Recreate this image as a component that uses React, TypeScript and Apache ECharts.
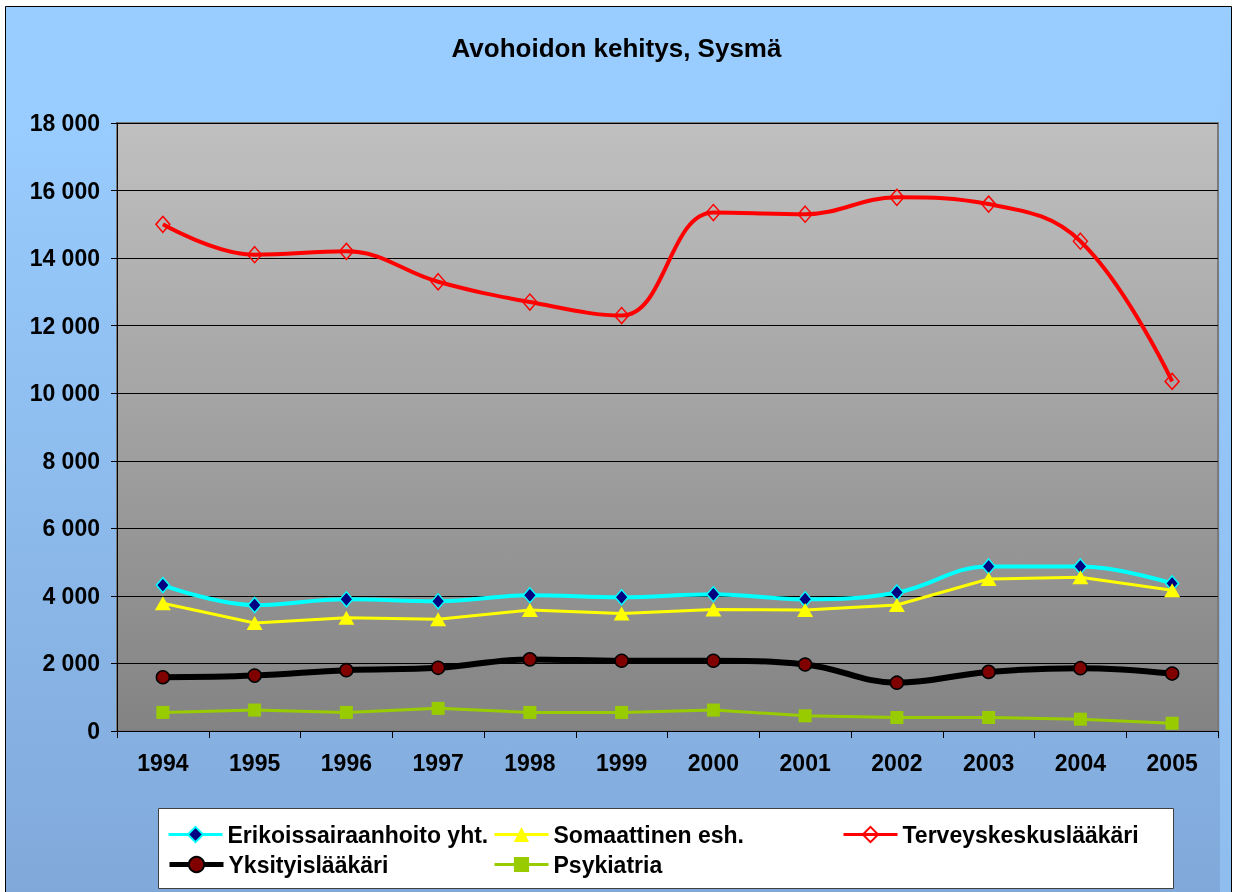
import React, { useEffect, useRef } from "react";
import * as echarts from "echarts";

const years = ["1994", "1995", "1996", "1997", "1998", "1999", "2000", "2001", "2002", "2003", "2004", "2005"];
const erikoissairaanhoito = [4320, 3730, 3900, 3840, 4020, 3960, 4050, 3900, 4100, 4870, 4870, 4370];
const somaattinen = [3780, 3200, 3350, 3310, 3580, 3480, 3600, 3580, 3730, 4500, 4550, 4170];
const terveyskeskus = [15000, 14100, 14200, 13300, 12700, 12300, 15350, 15300, 15800, 15600, 14500, 10350];
const yksityis = [1590, 1640, 1800, 1870, 2120, 2080, 2080, 1970, 1430, 1750, 1860, 1700];
const psykiatria = [550, 620, 550, 670, 550, 550, 620, 450, 400, 400, 350, 230];

const seriesNames = [
  "Erikoissairaanhoito yht.",
  "Somaattinen esh.",
  "Terveyskeskuslääkäri",
  "Yksityislääkäri",
  "Psykiatria",
];
const titleText = "Avohoidon kehitys, Sysmä";
const yMin = 0;
const yMax = 18000;
const yInterval = 2000;

const FONT = "'Liberation Sans', Arial, sans-serif";

function fmt(v: number): string {
  return String(v).replace(/\B(?=(\d{3})+(?!\d))/g, " ");
}

export default function App() {
  const ref = useRef<HTMLDivElement>(null);
  useEffect(() => {
    if (!ref.current) return;
    const chart = echarts.init(ref.current, null, { renderer: "svg" });
    const legendText = { fontSize: 23, fontWeight: "bold", color: "#000", fontFamily: FONT };
    const legendPos = [
      { left: 167, top: 823, lw: 3 },
      { left: 493, top: 823, lw: 3 },
      { left: 842, top: 823, lw: 3 },
      { left: 167, top: 853, lw: 5 },
      { left: 493, top: 853, lw: 3 },
    ];
    const smooth = 0.4;
    chart.setOption({
      animation: false,
      title: {
        text: titleText,
        left: "center",
        top: 30,
        textStyle: { fontSize: 26, fontWeight: "bold", color: "#000", fontFamily: FONT },
      },
      graphic: [
        {
          type: "rect",
          z: -10,
          shape: { x: 5.5, y: 6.5, width: 1226, height: 890 },
          style: {
            fill: new echarts.graphic.LinearGradient(0, 0, 0, 1, [
              { offset: 0, color: "#99CCFF" },
              { offset: 0.12, color: "#99CCFF" },
              { offset: 1, color: "#80A9D9" },
            ]),
            stroke: "#000",
            lineWidth: 1,
          },
        },
        {
          type: "rect",
          z: -9,
          shape: { x: 1220, y: 7, width: 11, height: 886 },
          style: {
            fill: new echarts.graphic.LinearGradient(0, 0, 0, 1, [
              { offset: 0, color: "#99CCFF" },
              { offset: 1, color: "#8FBDEE" },
            ]),
          },
        },
        {
          type: "rect",
          z: -5,
          shape: { x: 158.5, y: 808.5, width: 1015, height: 80 },
          style: { fill: "#fff", stroke: "#404040", lineWidth: 1 },
        },
      ],
      legend: seriesNames.map((n, i) => ({
        data: [n],
        left: legendPos[i].left,
        top: legendPos[i].top,
        padding: 0,
        itemWidth: 54,
        itemHeight: 19,
        selectedMode: false,
        lineStyle: { width: legendPos[i].lw },
        textStyle: legendText,
      })),
      grid: {
        left: 117,
        right: 15,
        top: 123,
        bottom: 161,
        show: true,
        backgroundColor: new echarts.graphic.LinearGradient(0, 0, 0, 1, [
          { offset: 0, color: "#C0C0C0" },
          { offset: 1, color: "#838383" },
        ]),
        borderColor: "#7A7A7A",
        borderWidth: 2,
      },
      xAxis: {
        type: "category",
        data: years,
        boundaryGap: true,
        axisLine: { lineStyle: { color: "#000", width: 1 } },
        axisTick: { show: true, length: 7, lineStyle: { color: "#000" } },
        axisLabel: { margin: 20, fontSize: 23, fontWeight: "bold", color: "#000", fontFamily: FONT },
        splitLine: { show: false },
      },
      yAxis: {
        type: "value",
        min: yMin,
        max: yMax,
        interval: yInterval,
        axisLine: { show: true, lineStyle: { color: "#000", width: 1 } },
        axisTick: { show: true, length: 6, lineStyle: { color: "#000" } },
        axisLabel: {
          margin: 17,
          fontSize: 23,
          fontWeight: "bold",
          color: "#000",
          fontFamily: FONT,
          formatter: (v: number) => fmt(v),
        },
        splitLine: { show: true, lineStyle: { color: "#000", width: 1 } },
      },
      series: [
        {
          name: seriesNames[0],
          type: "line",
          data: erikoissairaanhoito,
          smooth,
          symbol: "diamond",
          symbolSize: [13, 15],
          lineStyle: { color: "#00FFFF", width: 4 },
          itemStyle: { color: "#000080", borderColor: "#00FFFF", borderWidth: 1.5 },
        },
        {
          name: seriesNames[1],
          type: "line",
          data: somaattinen,
          smooth: false,
          symbol: "triangle",
          symbolSize: [16, 14],
          lineStyle: { color: "#FFFF00", width: 3 },
          itemStyle: { color: "#FFFF00" },
        },
        {
          name: seriesNames[2],
          type: "line",
          data: terveyskeskus,
          smooth,
          symbol: "diamond",
          symbolSize: [14, 16],
          lineStyle: { color: "#FF0000", width: 4 },
          itemStyle: { color: "rgba(0,0,0,0)", borderColor: "#FF0000", borderWidth: 1.5 },
        },
        {
          name: seriesNames[3],
          type: "line",
          data: yksityis,
          smooth,
          symbol: "circle",
          symbolSize: 13,
          lineStyle: { color: "#000000", width: 6 },
          itemStyle: { color: "#800000", borderColor: "#000", borderWidth: 1.5 },
        },
        {
          name: seriesNames[4],
          type: "line",
          data: psykiatria,
          smooth: false,
          symbol: "rect",
          symbolSize: 13,
          lineStyle: { color: "#99CC00", width: 3 },
          itemStyle: { color: "#99CC00" },
        },
      ],
    });
    return () => chart.dispose();
  }, []);
  return (
    <div
      ref={ref}
      style={{ position: "fixed", left: 0, top: 0, width: 1233, height: 892 }}
    />
  );
}
